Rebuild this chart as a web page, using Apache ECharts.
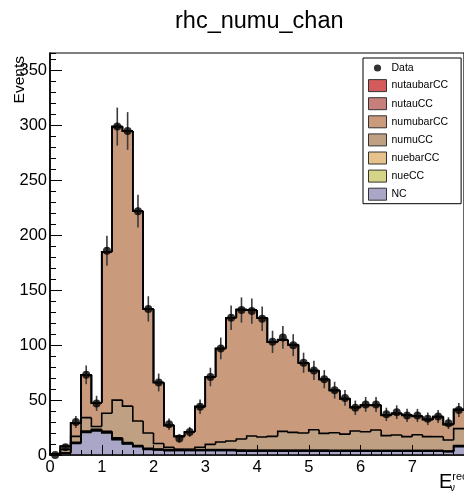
<!DOCTYPE html>
<html>
<head>
<meta charset="utf-8">
<script src="https://cdn.jsdelivr.net/npm/echarts@6/dist/echarts.min.js"></script>
<style>
  html, body { margin: 0; padding: 0; background: #ffffff; }
  #chart { width: 464px; height: 491px; }
</style>
</head>
<body>
<div id="chart"></div>
<script>
// Reconstructed-energy binning: 40 bins of width 0.2 from 0 to 8
const binWidth = 0.2;
const binLow = [0.0, 0.2, 0.4, 0.6, 0.8, 1.0, 1.2, 1.4, 1.6, 1.8,
                2.0, 2.2, 2.4, 2.6, 2.8, 3.0, 3.2, 3.4, 3.6, 3.8,
                4.0, 4.2, 4.4, 4.6, 4.8, 5.0, 5.2, 5.4, 5.6, 5.8,
                6.0, 6.2, 6.4, 6.6, 6.8, 7.0, 7.2, 7.4, 7.6, 7.8];

// Observed events per bin
const dataCounts = [0, 7, 30, 73, 47, 186, 299, 295, 222, 133,
                    66, 28, 15, 21, 44, 71, 97, 125, 132, 131,
                    124, 103, 107, 100, 84, 77, 69, 59, 52, 43,
                    46, 46, 37, 39, 36, 36, 33, 35, 29, 41];

// Simulated contributions, stacked bottom to top
const NC = [0.5, 1.5, 10.5, 20.5, 22, 20, 14, 10, 7.5, 5,
            4.5, 4, 4, 4, 4, 4, 4, 4, 3.5, 3.5,
            3.5, 3.5, 3.5, 3.5, 3.5, 3.5, 3.5, 3.5, 3.5, 3.5,
            3.5, 3.5, 3.5, 3.5, 3.5, 3.5, 3.5, 3.5, 3, 7.5];
const nueCC = [0.1, 0.3, 0.5, 0.6, 0.6, 0.7, 0.7, 0.6, 0.5, 0.5,
               0.4, 0.4, 0.4, 0.4, 0.4, 0.4, 0.4, 0.4, 0.4, 0.4,
               0.4, 0.4, 0.4, 0.4, 0.4, 0.4, 0.4, 0.3, 0.3, 0.3,
               0.3, 0.3, 0.3, 0.3, 0.3, 0.3, 0.3, 0.3, 0.3, 0.5];
const nuebarCC = [0.1, 0.3, 0.6, 0.8, 0.8, 0.9, 0.9, 0.8, 0.7, 0.6,
                  0.6, 0.6, 0.5, 0.5, 0.5, 0.5, 0.5, 0.5, 0.5, 0.5,
                  0.5, 0.5, 0.5, 0.5, 0.5, 0.5, 0.5, 0.5, 0.5, 0.4,
                  0.4, 0.4, 0.4, 0.4, 0.4, 0.4, 0.4, 0.4, 0.4, 0.6];
const numuCC = [0.1, 2.9, 5.4, 12.1, 2.6, 16.4, 34.4, 33.1, 22.3, 13.9,
                5.0, 2.0, 0.3, 0.3, 2.1, 4.8, 6.9, 7.8, 10.1, 12.9,
                12.0, 12.6, 17.1, 16.2, 15.6, 18.6, 15.3, 16.0, 14.7, 17.6,
                17.0, 18.5, 13.4, 14.0, 12.5, 14.3, 12.5, 12.5, 9.9, 15.4];
const numubarCC = [0.2, 3, 12, 39, 21.5, 147, 249, 250.5, 191, 113,
                   55.5, 20, 11.8, 15.8, 37, 61.3, 85.2, 112.3, 117.9, 114.6,
                   108.4, 85.7, 83.2, 79.6, 63.7, 53.7, 48.9, 38.3, 32.1, 21.3,
                   23.9, 22.4, 18.5, 19.4, 19.4, 16.6, 15.4, 17.9, 14.0, 16.8];
const nutauCC = [0, 0, 0, 0, 0, 0, 0, 0, 0, 0,
                 0, 0, 0, 0, 0, 0, 0, 0, 0.1, 0.1,
                 0.1, 0.2, 0.2, 0.2, 0.2, 0.2, 0.3, 0.3, 0.3, 0.3,
                 0.3, 0.3, 0.3, 0.3, 0.3, 0.3, 0.3, 0.3, 0.3, 0.5];
const nutaubarCC = [0, 0, 0, 0, 0, 0, 0, 0, 0, 0,
                    0, 0, 0, 0, 0, 0, 0, 0, 0, 0,
                    0.1, 0.1, 0.1, 0.1, 0.1, 0.1, 0.1, 0.1, 0.1, 0.1,
                    0.1, 0.1, 0.1, 0.1, 0.1, 0.1, 0.1, 0.1, 0.1, 0.2];

// Stack order (bottom first) with fill colours
const layers = [
  { name: 'NC',         values: NC,         color: '#a9a6c7' },
  { name: 'nueCC',      values: nueCC,      color: '#d6d486' },
  { name: 'nuebarCC',   values: nuebarCC,   color: '#e7c28c' },
  { name: 'numuCC',     values: numuCC,     color: '#bfa083' },
  { name: 'numubarCC',  values: numubarCC,  color: '#c99b7c' },
  { name: 'nutauCC',    values: nutauCC,    color: '#c77f7b' },
  { name: 'nutaubarCC', values: nutaubarCC, color: '#d45a5c' }
];

const yMax = 366;
const FONT = 'Liberation Sans, Arial, Helvetica, sans-serif';

// Small filled dot centred in an 18x12 legend cell
const dotIcon = 'path://M0,0L0.001,0M18,12L18.001,12M12.6,6A3.6,3.6,0,1,1,5.4,6A3.6,3.6,0,1,1,12.6,6Z';

// Build cumulative bounds for each layer
const running = binLow.map(() => 0);
const fillSeries = [];
const outlineSeries = [];
layers.forEach((layer) => {
  const rows = binLow.map((x0, i) => {
    const lo = running[i];
    const hi = lo + layer.values[i];
    return [x0, x0 + binWidth, lo, hi];
  });
  rows.forEach((r, i) => { running[i] = r[3]; });
  const outlineRows = rows.map((r, i) => [r[0], r[1], i === 0 ? 0 : rows[i - 1][3], r[3]]);

  fillSeries.push({
    name: layer.name,
    type: 'custom',
    color: layer.color,
    itemStyle: { color: layer.color },
    z: 2,
    silent: true,
    data: rows,
    renderItem: function (params, api) {
      const a = api.coord([api.value(0), api.value(2)]);
      const b = api.coord([api.value(1), api.value(3)]);
      // snap to whole pixels so neighbouring bins meet without seams
      const x0 = Math.round(a[0]), x1 = Math.round(b[0]);
      const yLo = Math.round(a[1]), yHi = Math.round(b[1]);
      return {
        type: 'rect',
        shape: { x: x0, y: yHi, width: x1 - x0, height: yLo - yHi },
        style: { fill: layer.color }
      };
    }
  });

  outlineSeries.push({
    name: layer.name + ' outline',
    type: 'custom',
    z: 3,
    silent: true,
    data: outlineRows,
    renderItem: function (params, api) {
      const p0 = api.coord([api.value(0), api.value(2)]);
      const p1 = api.coord([api.value(0), api.value(3)]);
      const p2 = api.coord([api.value(1), api.value(3)]);
      return {
        type: 'polyline',
        shape: { points: [p0, p1, p2] },
        style: { stroke: '#000', lineWidth: 1.6, fill: null }
      };
    }
  });
});

const binCenters = binLow.map((x0) => x0 + binWidth / 2);
const dataPoints = binCenters.map((x, i) => [x, dataCounts[i]]);
const errorRows = binCenters.map((x, i) => [x, dataCounts[i], Math.sqrt(dataCounts[i])]);

const chart = echarts.init(document.getElementById('chart'), null, { renderer: 'canvas' });

chart.setOption({
  animation: false,
  backgroundColor: '#ffffff',
  textStyle: { fontFamily: FONT },
  title: {
    text: 'rhc_numu_chan',
    left: 170,
    top: 5,
    textStyle: { fontFamily: FONT, fontSize: 23.5, fontWeight: 'normal', color: '#000' }
  },
  legend: {
    orient: 'vertical',
    left: 363,
    top: 58,
    padding: [4, 13, 3, 5],
    itemWidth: 18,
    itemHeight: 12,
    itemGap: 5.1,
    backgroundColor: '#ffffff',
    borderColor: '#000',
    borderWidth: 1,
    borderRadius: 0,
    selectedMode: false,
    itemStyle: { borderColor: '#333', borderWidth: 1 },
    textStyle: { fontFamily: FONT, fontSize: 10.5, lineHeight: 12, color: '#000' },
    data: [
      { name: 'Data', icon: dotIcon, itemStyle: { color: '#000', borderWidth: 0 } },
      { name: 'nutaubarCC', icon: 'rect' },
      { name: 'nutauCC', icon: 'rect' },
      { name: 'numubarCC', icon: 'rect' },
      { name: 'numuCC', icon: 'rect' },
      { name: 'nuebarCC', icon: 'rect' },
      { name: 'nueCC', icon: 'rect' },
      { name: 'NC', icon: 'rect' }
    ]
  },
  grid: {
    left: 50,
    top: 53,
    width: 418.3,
    height: 402,
    show: true,
    borderColor: '#000',
    borderWidth: 1.2,
    backgroundColor: 'transparent',
    containLabel: false
  },
  xAxis: {
    type: 'value',
    min: 0,
    max: 8,
    interval: 1,
    z: 10,
    axisLine: { onZero: false, lineStyle: { color: '#000', width: 1.6 } },
    axisTick: { inside: true, length: 10, lineStyle: { color: '#000', width: 1 } },
    minorTick: { show: true, splitNumber: 5, length: 5, lineStyle: { color: '#000', width: 1 } },
    axisLabel: { color: '#000', fontSize: 16.5, fontFamily: FONT, margin: 4, showMaxLabel: false },
    splitLine: { show: false }
  },
  yAxis: [
    {
      type: 'value',
      min: 0,
      max: yMax,
      interval: 50,
      z: 10,
      axisLine: { show: true, onZero: false, lineStyle: { color: '#000', width: 1.6 } },
      axisTick: { inside: true, length: 12, lineStyle: { color: '#000', width: 1 } },
      axisLabel: { color: '#000', fontSize: 16.5, fontFamily: FONT, margin: 3, showMaxLabel: false },
      splitLine: { show: false }
    },
    {
      type: 'value',
      min: 0,
      max: yMax,
      interval: 10,
      z: 10,
      position: 'left',
      axisLine: { show: false },
      axisTick: { show: true, inside: true, length: 6, lineStyle: { color: '#000', width: 1 } },
      axisLabel: { show: false },
      splitLine: { show: false }
    }
  ],
  graphic: [
    {
      type: 'text',
      x: 20,
      y: 56,
      rotation: Math.PI / 2,
      z: 20,
      style: { text: 'Events', font: '15.5px ' + FONT, fill: '#000', align: 'right', verticalAlign: 'middle' }
    },
    {
      type: 'text',
      left: 439,
      top: 471,
      z: 20,
      style: {
        text: '{e|E}{s|rec}',
        rich: {
          e: { font: '20px ' + FONT, fill: '#000', verticalAlign: 'bottom' },
          s: { font: '11px ' + FONT, fill: '#000', verticalAlign: 'top', padding: [0, 0, 10, 0] }
        }
      }
    },
    {
      type: 'text',
      left: 450,
      top: 483,
      z: 20,
      style: { text: 'ν', font: '10px ' + FONT, fill: '#000' }
    }
  ],
  series: [
    ...fillSeries,
    ...outlineSeries,
    {
      name: 'Data errors',
      type: 'custom',
      z: 5,
      silent: true,
      data: errorRows,
      renderItem: function (params, api) {
        const x = api.value(0), y = api.value(1), e = api.value(2);
        const top = api.coord([x, y + e]);
        const bot = api.coord([x, Math.max(0, y - e)]);
        return {
          type: 'line',
          shape: { x1: top[0], y1: top[1], x2: bot[0], y2: bot[1] },
          style: { stroke: '#3a3a3a', lineWidth: 1.6 }
        };
      }
    },
    {
      name: 'Data',
      type: 'scatter',
      z: 6,
      symbol: 'circle',
      symbolSize: 8,
      itemStyle: { color: '#000' },
      silent: true,
      data: dataPoints
    }
  ]
});
</script>
</body>
</html>
